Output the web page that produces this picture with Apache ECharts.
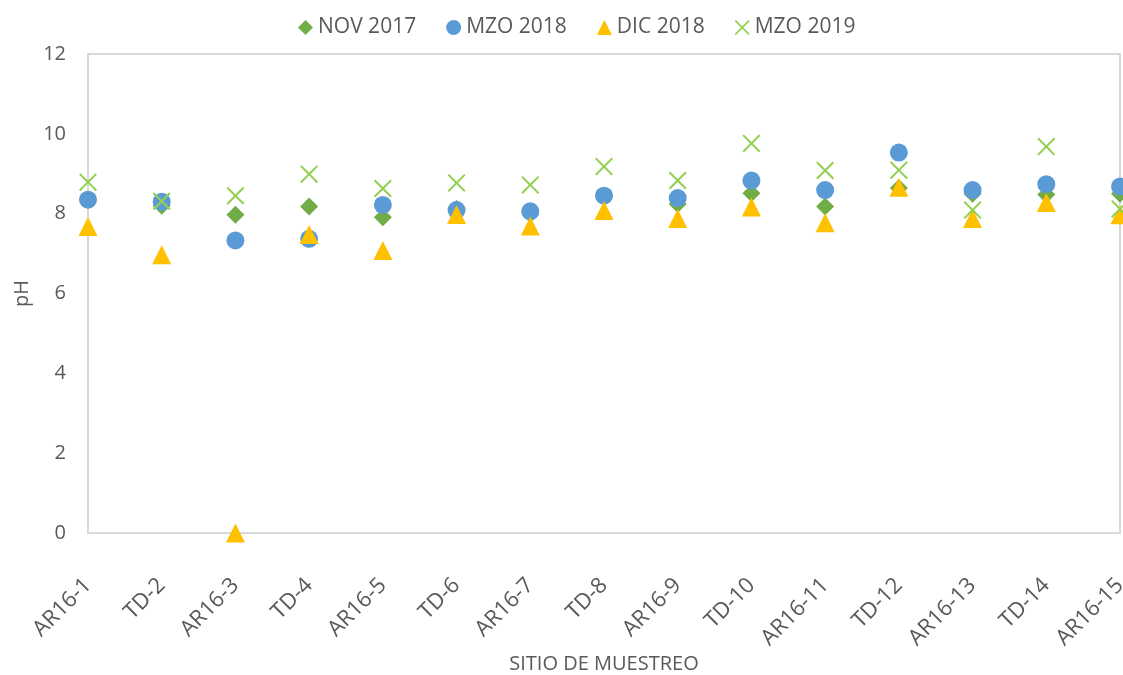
<!DOCTYPE html>
<html>
<head>
<meta charset="utf-8">
<script src="https://cdn.jsdelivr.net/npm/echarts@6/dist/echarts.min.js"></script>
<style>html,body{margin:0;padding:0;background:#fff}#c{width:1123px;height:675px}</style>
</head>
<body>
<div id="c"></div>
<script>
var categories = ['AR16-1','TD-2','AR16-3','TD-4','AR16-5','TD-6','AR16-7','TD-8','AR16-9','TD-10','AR16-11','TD-12','AR16-13','TD-14','AR16-15'];
var nov2017 = [8.35, 8.2, 7.97, 8.18, 7.91, 8.12, 8.0, 8.45, 8.24, 8.51, 8.18, 8.64, 8.5, 8.48, 8.5];
var mzo2018 = [8.35, 8.3, 7.33, 7.37, 8.22, 8.09, 8.06, 8.45, 8.39, 8.83, 8.59, 9.53, 8.59, 8.74, 8.68];
var dic2018 = [7.68, 6.97, 0, 7.48, 7.08, 7.98, 7.69, 8.08, 7.88, 8.17, 7.77, 8.66, 7.88, 8.28, 7.97];
var mzo2019 = [8.79, 8.31, 8.45, 8.99, 8.63, 8.77, 8.72, 9.18, 8.83, 9.76, 9.08, 9.09, 8.09, 9.68, 8.12];
var yTicks = {min: 0, max: 12, interval: 2};

var FONT = 'Open Sans';
var TXT = '#595959';
var crossPath = 'path://M0,8 L8,0 L50,42 L92,0 L100,8 L58,50 L100,92 L92,100 L50,58 L8,100 L0,92 L42,50 Z';

var chart = echarts.init(document.getElementById('c'));
function s(name, data, symbol, size, color) {
  return {
    name: name, type: 'scatter', data: data, symbol: symbol, symbolSize: size,
    clip: false, itemStyle: {color: color, opacity: 1}, emphasis: {disabled: true}
  };
}
chart.setOption({
  animation: false,
  textStyle: {fontFamily: FONT},
  legend: {
    top: 12, left: 293,
    itemGap: 30, itemWidth: 15, itemHeight: 15,
    textStyle: {color: TXT, fontSize: 21, fontFamily: FONT},
    data: ['NOV 2017','MZO 2018','DIC 2018','MZO 2019']
  },
  grid: {left: 88, right: 3, top: 54, bottom: 142, containLabel: false, outerBoundsMode: 'none',
    show: true, borderColor: '#d9d9d9', borderWidth: 2, backgroundColor: 'transparent'},
  xAxis: {
    type: 'category', data: categories, boundaryGap: false,
    axisLine: {show: true, lineStyle: {color: '#d9d9d9', width: 2}},
    axisTick: {show: false},
    axisLabel: {rotate: 45, color: TXT, fontSize: 22, fontFamily: FONT, margin: 49, interval: 0},
    splitLine: {show: false},
    name: 'SITIO DE MUESTREO', nameLocation: 'middle', nameGap: 121, nameMoveOverlap: false,
    nameTextStyle: {color: TXT, fontSize: 20, fontFamily: FONT}
  },
  yAxis: {
    type: 'value', min: yTicks.min, max: yTicks.max, interval: yTicks.interval,
    axisLine: {show: false}, axisTick: {show: false}, splitLine: {show: false},
    axisLabel: {color: TXT, fontSize: 20, fontFamily: FONT, margin: 22},
    name: 'pH', nameLocation: 'middle', nameGap: 56, nameRotate: 90, nameMoveOverlap: false,
    nameTextStyle: {color: TXT, fontSize: 20, fontFamily: FONT}
  },
  series: [
    s('NOV 2017', nov2017, 'diamond', 18, '#70AD47'),
    s('MZO 2018', mzo2018, 'circle', 18, '#5B9BD5'),
    s('DIC 2018', dic2018, 'triangle', 19, '#FFC000'),
    s('MZO 2019', mzo2019, crossPath, 18, '#92D050')
  ]
});
</script>
</body>
</html>
